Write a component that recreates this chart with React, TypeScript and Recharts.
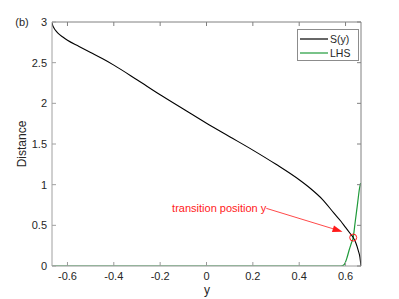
import React from 'react';
import {
  LineChart,
  Line,
  XAxis,
  YAxis,
  ReferenceDot,
  ReferenceLine,
  Customized,
  Legend,
} from 'recharts';

// S(y) curve
const sY = [-0.6667, -0.6655, -0.664, -0.66, -0.655, -0.648, -0.64, -0.62, -0.6, -0.55, -0.5, -0.45, -0.4, -0.3, -0.2, -0.1, 0, 0.1, 0.2, 0.3, 0.4, 0.45, 0.5, 0.55, 0.58, 0.6, 0.62, 0.633, 0.645, 0.655, 0.662, 0.6667];
const sVal = [3.0, 2.98, 2.96, 2.935, 2.91, 2.885, 2.86, 2.815, 2.775, 2.7, 2.625, 2.55, 2.47, 2.29, 2.105, 1.93, 1.755, 1.59, 1.425, 1.25, 1.06, 0.95, 0.82, 0.65, 0.55, 0.475, 0.4, 0.35, 0.28, 0.19, 0.11, 0.0];

// LHS curve
const lhsY = [-0.6667, 0.57, 0.585, 0.595, 0.605, 0.615, 0.625, 0.633, 0.642, 0.652, 0.66, 0.665];
const lhsVal = [0, 0, 0.003, 0.02, 0.09, 0.19, 0.28, 0.35, 0.55, 0.77, 0.95, 1.02];

const xTicks = [-0.6, -0.4, -0.2, 0, 0.2, 0.4, 0.6];
const yTicks = [0, 0.5, 1, 1.5, 2, 2.5, 3];
const xDomain = [-0.6667, 0.6667];
const yDomain = [0, 3];

// transition point & annotation
const transition = { x: 0.633, y: 0.35 };
const arrowFrom = { x: 0.258, y: 0.709 };
const arrowTo = { x: 0.587, y: 0.422 };
const annotationText = 'transition position y';

const seriesNames = ['S(y)', 'LHS'];

const sData = sY.map((x, i) => ({ x, v: sVal[i] }));
const lhsData = lhsY.map((x, i) => ({ x, v: lhsVal[i] }));

const FONT = '"Liberation Sans", Arial, Helvetica, sans-serif';
const TEXT = '#262626';
const BLACK = '#000000';
const GREEN = '#1f9a3a';
const RED = '#ff1a1a';

const ArrowShape = (props: any) => {
  const { x1, y1, x2, y2 } = props;
  if ([x1, y1, x2, y2].some((v) => typeof v !== 'number' || isNaN(v))) return <g />;
  const dx = x2 - x1;
  const dy = y2 - y1;
  const len = Math.sqrt(dx * dx + dy * dy);
  const ux = dx / len;
  const uy = dy / len;
  const hl = 10;
  const hw = 3.5;
  const bx = x2 - ux * hl;
  const by = y2 - uy * hl;
  const p1 = `${x2},${y2}`;
  const p2 = `${bx - uy * hw},${by + ux * hw}`;
  const p3 = `${bx + uy * hw},${by - ux * hw}`;
  return (
    <g>
      <line x1={x1} y1={y1} x2={bx} y2={by} stroke={RED} strokeWidth={0.8} />
      <polygon points={`${p1} ${p2} ${p3}`} fill={RED} stroke="none" />
      <text
        x={x1}
        y={y1}
        textAnchor="end"
        dominantBaseline="central"
        fill={RED}
        fontSize={11}
        fontFamily={FONT}
      >
        {annotationText}
      </text>
    </g>
  );
};

const LegendBox = () => (
  <svg width={62} height={32} style={{ display: 'block' }}>
    <rect x={0.5} y={0.5} width={61} height={31} fill="#fff" stroke="#8c8c8c" strokeWidth={1} />
    <line x1={3} y1={10} x2={31} y2={10} stroke={BLACK} strokeWidth={1.2} />
    <text x={33} y={10} dominantBaseline="central" fontSize={10.5} fontFamily={FONT} fill={TEXT}>
      {seriesNames[0]}
    </text>
    <line x1={3} y1={24} x2={31} y2={24} stroke={GREEN} strokeWidth={1.2} />
    <text x={33} y={24} dominantBaseline="central" fontSize={10.5} fontFamily={FONT} fill={TEXT}>
      {seriesNames[1]}
    </text>
  </svg>
);

const StaticText = () => (
  <g fontFamily={FONT} fill={TEXT}>
    <text x={22} y={22} textAnchor="middle" dominantBaseline="central" fontSize={11}>
      (b)
    </text>
    <text
      x={21.5}
      y={144}
      textAnchor="middle"
      dominantBaseline="central"
      fontSize={12}
      transform="rotate(-90 21.5 144)"
    >
      Distance
    </text>
    <text x={207} y={290} textAnchor="middle" dominantBaseline="central" fontSize={12}>
      y
    </text>
  </g>
);

const noTick = () => <g />;

export default function App() {
  return (
    <div style={{ position: 'absolute', left: 0, top: 0, width: 399, height: 299, background: '#fff' }}>
      <LineChart width={399} height={299} margin={{ top: 21, right: 37, bottom: 0, left: 0 }}>
        <XAxis
          dataKey="x"
          type="number"
          domain={xDomain}
          allowDataOverflow
          ticks={xTicks}
          tickSize={-4}
          tickMargin={10}
          height={33}
          stroke="#9a9a9a"
          tick={{ fill: TEXT, fontSize: 11, fontFamily: FONT }}
          interval={0}
        />
        <XAxis
          xAxisId="top"
          orientation="top"
          dataKey="x"
          type="number"
          domain={xDomain}
          allowDataOverflow
          ticks={xTicks}
          tickSize={-4}
          height={1}
          stroke="#808080"
          tick={noTick}
          interval={0}
        />
        <YAxis
          type="number"
          domain={yDomain}
          allowDataOverflow
          ticks={yTicks}
          tickSize={-4}
          tickMargin={9}
          width={52}
          stroke="#a0a0a0"
          tick={{ fill: TEXT, fontSize: 11, fontFamily: FONT }}
          interval={0}
        />
        <YAxis
          yAxisId="right"
          orientation="right"
          type="number"
          domain={yDomain}
          allowDataOverflow
          ticks={yTicks}
          tickSize={-4}
          width={1}
          stroke="#808080"
          tick={noTick}
          interval={0}
        />
        <Line
          data={lhsData}
          dataKey="v"
          type="monotone"
          stroke={GREEN}
          strokeWidth={1.2}
          dot={false}
          isAnimationActive={false}
          name={seriesNames[1]}
        />
        <Line
          data={sData}
          dataKey="v"
          type="monotone"
          stroke={BLACK}
          strokeWidth={1.1}
          dot={false}
          isAnimationActive={false}
          name={seriesNames[0]}
        />
        <ReferenceLine
          segment={[arrowFrom, arrowTo]}
          stroke={RED}
          shape={ArrowShape}
          ifOverflow="visible"
        />
        <ReferenceDot
          x={transition.x}
          y={transition.y}
          r={3.5}
          fill="none"
          stroke={RED}
          strokeWidth={1}
          ifOverflow="visible"
        />
        <Legend
          layout="vertical"
          align="center"
          verticalAlign="middle"
          content={LegendBox}
          wrapperStyle={{ position: 'absolute', left: 297, top: 29, width: 62, height: 32 }}
        />
        <Customized component={StaticText} />
      </LineChart>
    </div>
  );
}
